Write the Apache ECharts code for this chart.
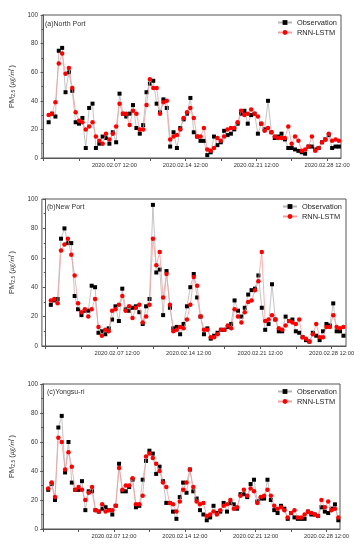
<!DOCTYPE html>
<html>
<head>
<meta charset="utf-8">
<script src="https://cdn.jsdelivr.net/npm/echarts@6/dist/echarts.min.js"></script>
<style>
html,body{margin:0;padding:0;background:#fff;}
#chart{width:364px;height:550px;}
</style>
</head>
<body>
<div id="chart"></div>
<script>
// Sampling: every 8 hours starting 2020-02-01 00:00 (hour 12 counted from 2020-01-31 12:00)
const startHour = 12;
const stepHours = 8;

const panelTitles = ['(a)North Port', '(b)New Port', '(c)Yongsu-ri'];
const seriesNames = ['Observation', 'RNN-LSTM'];

// Tick positions in hours from 2020-01-31 12:00
const tickHours = [0, 84, 168, 252, 336, 420, 504, 588, 672];
const labelHours = [168, 336, 504, 672];
const tickLabels = ['2020.02.07 12:00', '2020.02.14 12:00', '2020.02.21 12:00', '2020.02.28 12:00'];

const obsNorth = [25,31,29,75,77,46,60,47,25,24,28,7,35,38,7,10,15,14,10,18,11,45,31,29,31,37,21,17,23,46,52,54,38,32,41,35,8,18,7,21,27,31,42,18,15,12,12,2,4,15,9,11,19,16,17,20,24,31,33,24,30,31,17,24,20,40,18,14,15,17,13,7,7,6,5,4,3,8,8,6,7,11,13,16,7,8,8];
const predNorth = [30,31,39,66,73,59,63,49,32,26,25,20,22,25,15,12,10,17,13,17,22,38,31,31,23,33,31,20,20,37,55,49,49,31,39,40,13,15,16,20,28,32,35,28,15,15,21,6,5,7,14,12,15,20,21,21,25,33,30,31,34,31,29,24,19,21,18,15,14,14,14,22,10,15,12,5,6,8,15,5,7,11,13,17,12,13,12];

const obsNew = [28,31,32,73,80,70,70,34,25,21,24,24,41,40,9,10,8,12,18,27,17,39,25,24,26,27,23,15,27,32,96,50,52,21,51,26,12,13,8,15,27,40,49,33,20,8,12,5,7,9,11,11,13,15,31,24,20,26,35,38,39,48,26,11,15,42,18,10,10,20,17,18,10,9,6,4,3,9,7,4,10,15,14,29,10,10,7];
const predNew = [31,32,29,65,69,73,62,48,29,23,25,20,25,32,13,7,11,10,24,25,28,34,24,27,19,26,28,16,20,28,73,55,64,33,49,28,10,11,13,12,18,28,47,41,20,11,11,6,6,8,11,11,14,12,25,20,16,23,30,31,38,44,64,17,18,21,18,12,11,14,17,16,15,18,6,5,3,8,15,6,6,13,13,21,13,12,13];

const obsYong = [27,31,20,70,78,39,60,32,27,27,33,13,26,26,13,12,14,15,13,10,16,45,26,26,29,34,15,16,34,47,54,52,38,43,33,18,18,12,7,22,32,25,41,26,21,13,10,6,8,16,11,12,18,12,18,17,14,24,24,22,31,34,19,21,21,34,20,13,11,16,14,7,11,8,7,7,7,12,10,10,9,15,12,11,14,17,6];
const predYong = [28,32,22,63,60,41,53,43,27,29,27,20,25,29,13,12,17,12,13,13,16,42,27,30,30,35,17,17,23,50,52,49,45,40,32,29,18,17,12,19,27,32,41,29,19,17,18,9,10,12,10,13,16,17,20,14,15,23,27,23,28,26,18,22,23,27,23,16,14,15,13,8,11,13,8,8,10,12,11,10,9,20,15,19,13,14,8];

const panels = [
  {obs: obsNorth, pred: predNorth, grid: {left: 40, top: 15, width: 301, height: 143}, min: -4, max: 705, legendLeft: 277, legendTop: 19, titleLeft: 45, titleTop: 20.5},
  {obs: obsNew, pred: predNew, grid: {left: 41, top: 199, width: 305, height: 147}, min: -9, max: 706, legendLeft: 282, legendTop: 203, titleLeft: 47, titleTop: 203.5},
  {obs: obsYong, pred: predYong, grid: {left: 40, top: 384, width: 300, height: 145}, min: -3, max: 704, legendLeft: 277, legendTop: 388, titleLeft: 47, titleTop: 388.5}
];

function toPairs(arr) {
  return arr.map((v, i) => [startHour + i * stepHours, v]);
}

const FONT = 'Liberation Sans, Arial, sans-serif';
const option = {
  animation: false,
  backgroundColor: '#fff',
  title: [], legend: [], grid: [], xAxis: [], yAxis: [], series: []
};

panels.forEach((p, k) => {
  option.grid.push(Object.assign({show: true, borderColor: '#555', borderWidth: 1, backgroundColor: 'transparent'}, p.grid));
  option.title.push({
    text: panelTitles[k], left: p.titleLeft, top: p.titleTop, padding: 0,
    textStyle: {fontFamily: FONT, fontSize: 7, fontWeight: 'normal', color: '#333'}
  });
  option.legend.push({
    orient: 'vertical', left: p.legendLeft, top: p.legendTop, padding: 0,
    itemWidth: 14, itemHeight: 6, itemGap: 3,
    data: seriesNames,
    textStyle: {fontFamily: FONT, fontSize: 7.4, color: '#222'},
    selectedMode: false
  });
  option.xAxis.push({
    type: 'value', gridIndex: k, min: p.min, max: p.max,
    axisLine: {show: true, onZero: false, lineStyle: {color: '#555', width: 1}},
    axisTick: {show: true, inside: false, length: 3, customValues: tickHours, lineStyle: {color: '#555'}},
    axisLabel: {
      customValues: labelHours, margin: 4, fontFamily: FONT, fontSize: 5.8, color: '#333',
      formatter: v => tickLabels[labelHours.indexOf(Math.round(v))] || ''
    },
    splitLine: {show: false}
  });
  option.yAxis.push({
    type: 'value', gridIndex: k, min: 0, max: 100, interval: 20,
    axisLine: {show: true, lineStyle: {color: '#555', width: 1}},
    axisTick: {show: true, inside: false, length: 3, lineStyle: {color: '#555'}},
    minorTick: {show: true, splitNumber: 2, length: 2, lineStyle: {color: '#555'}},
    axisLabel: {margin: 4, fontFamily: FONT, fontSize: 6.3, color: '#333'},
    splitLine: {show: false},
    name: '{a|PM}{b|2.5}{a| (}{c|㎍/㎥}{a| )}',
    nameLocation: 'middle', nameGap: 22, nameRotate: 90,
    nameTextStyle: {
      rich: {
        a: {fontFamily: FONT, fontSize: 7.5, color: '#333'},
        b: {fontFamily: FONT, fontSize: 5, color: '#333', padding: [4, 0, 0, 0], verticalAlign: 'bottom'},
        c: {fontFamily: 'Noto Sans CJK KR, sans-serif', fontSize: 6.5, color: '#333', fontStyle: 'italic'}
      }
    }
  });
  option.series.push({
    name: seriesNames[0], type: 'line', xAxisIndex: k, yAxisIndex: k,
    data: toPairs(p.obs),
    symbol: 'rect', symbolSize: 4, showAllSymbol: true,
    lineStyle: {color: '#b5b5b5', width: 0.8},
    itemStyle: {color: '#000'},
    z: 2
  });
  option.series.push({
    name: seriesNames[1], type: 'line', xAxisIndex: k, yAxisIndex: k,
    data: toPairs(p.pred),
    symbol: 'circle', symbolSize: 4.5, showAllSymbol: true,
    lineStyle: {color: '#f2a0a0', width: 0.8},
    itemStyle: {color: '#ff0000'},
    z: 3
  });
});

const chart = echarts.init(document.getElementById('chart'), null, {renderer: 'canvas'});
chart.setOption(option);
</script>
</body>
</html>
